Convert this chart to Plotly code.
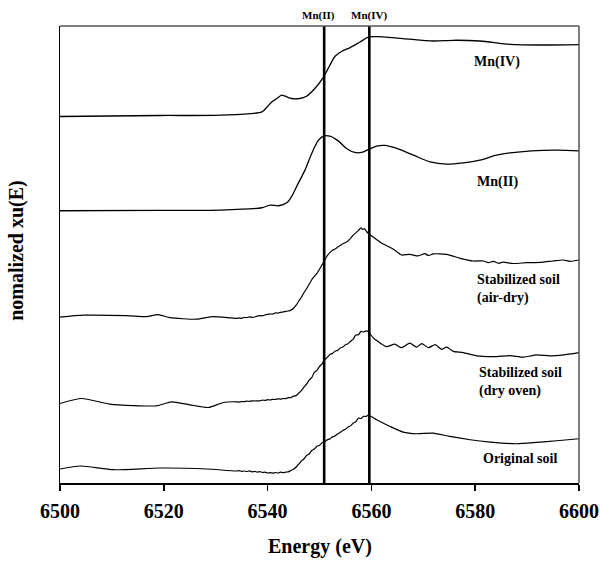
import plotly.graph_objects as go

# ---------------- data (energy in eV, stacked normalized absorbance, arbitrary units) -------------
mn4_E = [6500.0, 6519.3, 6530.8, 6538.9, 6539.8, 6540.8, 6541.8, 6542.7, 6543.4, 6544.6, 6546.2,
         6547.5, 6549.1, 6550.7, 6552.0, 6553.0, 6554.3, 6555.9, 6557.8, 6559.5, 6561.0, 6566.1,
         6571.9, 6575.8, 6580.9, 6586.7, 6592.5, 6600.0]
mn4_y = [367.0, 368.0, 368.3, 371.6, 376.0, 381.6, 385.0, 388.3, 387.3, 385.0, 385.0,
         387.3, 395.0, 406.0, 418.3, 427.3, 432.3, 436.0, 441.6, 446.6, 447.0, 445.0,
         442.6, 443.3, 442.6, 439.3, 438.6, 439.0]

mn2_E = [6500.0, 6519.3, 6530.8, 6538.9, 6540.5, 6542.1, 6543.7, 6544.6, 6545.9, 6547.2, 6548.5,
         6549.8, 6550.9, 6552.0, 6553.6, 6555.2, 6556.8, 6558.1, 6559.5, 6561.0, 6562.6, 6564.9,
         6568.1, 6571.3, 6574.5, 6577.7, 6580.9, 6584.1, 6586.7, 6595.4, 6600.0]
mn2_y = [272.6, 273.0, 273.3, 275.6, 278.3, 277.6, 280.6, 286.6, 300.0, 313.3, 330.0,
         343.3, 347.6, 347.3, 342.6, 335.0, 331.0, 331.0, 334.0, 337.3, 338.0, 335.0,
         328.3, 321.6, 319.3, 320.6, 323.3, 328.3, 330.6, 333.3, 332.6]

air_E = [6500.0, 6504.5, 6512.9, 6516.7, 6518.9, 6521.2, 6526.3, 6529.5,
         6534.0, 6534.5, 6535.0, 6535.5, 6536.0, 6536.5, 6537.0, 6537.5, 6538.0, 6538.5,
         6539.0, 6539.5, 6540.0, 6540.5, 6541.0, 6541.5, 6542.0, 6542.5, 6543.0, 6543.5,
         6544.0, 6544.5, 6545.0, 6545.5, 6546.0, 6546.5, 6547.0, 6547.5, 6548.0, 6548.5,
         6549.0, 6549.5, 6550.0, 6550.5, 6551.0, 6551.5, 6552.0, 6552.5, 6553.0, 6553.5,
         6554.0, 6554.5, 6555.0, 6555.5, 6556.0, 6556.5, 6557.0, 6557.5, 6558.0, 6558.3,
         6558.7, 6559.1, 6560.4, 6562.0, 6563.6, 6564.9, 6565.8, 6567.4, 6569.0, 6570.3,
         6571.0, 6571.9, 6574.5, 6577.1, 6579.6, 6581.6, 6582.5, 6583.5, 6584.5, 6585.4,
         6587.3, 6589.9, 6592.5, 6595.0, 6597.0, 6598.3, 6600.0]
air_y = [166.0, 168.0, 167.6, 166.6, 168.6, 165.6, 164.0, 166.6,
         164.8, 165.3, 164.9, 165.9, 165.6, 166.4, 165.9, 166.2, 167.1, 167.6,
         167.4, 168.2, 168.8, 169.3, 169.2, 170.3, 170.1, 170.9, 171.2, 171.8,
         172.2, 173.1, 175.0, 178.0, 182.0, 186.0, 190.5, 194.5, 199.0, 203.5,
         206.8, 210.0, 214.0, 218.5, 223.0, 227.6, 230.6, 233.0, 234.2, 236.2,
         237.8, 239.6, 240.8, 242.4, 245.2, 248.2, 250.4, 253.0, 255.4, 254.0,
         254.4, 251.6, 246.0, 240.0, 236.0, 231.6, 228.3, 229.0, 227.4, 229.6,
         227.8, 229.4, 229.0, 225.0, 222.3, 222.3, 220.6, 222.0, 220.0, 221.2,
         219.8, 220.6, 221.0, 222.3, 223.3, 222.0, 223.3]

oven_E = [6500.0, 6504.2, 6509.6, 6518.6, 6521.5, 6525.0, 6528.6, 6531.5,
          6534.0, 6534.5, 6535.0, 6535.5, 6536.0, 6536.5, 6537.0, 6537.5, 6538.0, 6538.5,
          6539.0, 6539.5, 6540.0, 6540.5, 6541.0, 6541.5, 6542.0, 6542.5, 6543.0, 6543.5,
          6544.0, 6544.5, 6545.0, 6545.5, 6546.0, 6546.5, 6547.0, 6547.5, 6548.0, 6548.5,
          6549.0, 6549.5, 6550.0, 6550.5, 6551.0, 6551.5, 6552.0, 6552.5, 6553.0, 6553.5,
          6554.0, 6554.5, 6555.0, 6555.5, 6556.0, 6556.5, 6557.0, 6557.5, 6558.0, 6558.5,
          6559.0, 6559.4, 6560.4, 6561.3, 6562.9, 6564.5, 6565.8, 6567.4, 6568.7, 6569.7,
          6571.0, 6572.3, 6573.5, 6574.5, 6575.8, 6577.7, 6580.3, 6584.1, 6586.7, 6589.3,
          6591.8, 6594.4, 6597.0, 6600.0]
oven_y = [79.6, 84.6, 79.0, 77.3, 81.3, 78.3, 75.6, 80.6,
          81.3, 81.0, 81.6, 81.4, 82.0, 81.7, 82.3, 82.1, 82.3, 82.2,
          83.0, 82.7, 83.4, 83.1, 83.8, 83.6, 84.3, 84.0, 84.6, 84.5,
          85.4, 85.4, 87.0, 87.5, 90.0, 92.5, 96.0, 99.0, 103.0, 105.5,
          110.8, 112.8, 116.6, 119.4, 123.4, 125.8, 128.6, 129.8, 132.0, 132.8,
          135.2, 136.2, 138.4, 139.5, 142.0, 144.0, 148.2, 148.4, 151.8, 151.2,
          152.4, 151.6, 145.0, 141.6, 136.6, 139.0, 135.5, 140.0, 136.0, 139.6,
          135.5, 138.6, 133.8, 136.0, 131.8, 130.6, 127.3, 126.6, 127.6, 126.0,
          128.3, 127.3, 128.3, 130.6]

orig_E = [6500.0, 6503.9, 6510.3, 6519.3, 6528.3,
          6534.0, 6534.5, 6535.0, 6535.5, 6536.0, 6536.5, 6537.0, 6537.5, 6538.0, 6538.5,
          6539.0, 6539.5, 6540.0, 6540.5, 6541.0, 6541.5, 6542.0, 6542.5, 6543.0, 6543.5,
          6544.0, 6544.5, 6545.0, 6545.5, 6546.0, 6546.5, 6547.0, 6547.5, 6548.0, 6548.5,
          6549.0, 6549.5, 6550.0, 6550.5, 6551.0, 6551.5, 6552.0, 6552.5, 6553.0, 6553.5,
          6554.0, 6554.5, 6555.0, 6555.5, 6556.0, 6556.5, 6557.0, 6557.5, 6558.0, 6558.5,
          6559.0, 6559.4, 6561.0, 6563.6, 6566.1, 6568.7, 6571.9, 6575.1, 6579.0, 6582.9,
          6588.0, 6591.8, 6595.7, 6600.0]
orig_y = [14.0, 17.0, 13.3, 15.0, 14.0,
          12.0, 12.4, 11.6, 12.0, 11.5, 12.1, 11.2, 11.6, 10.9, 11.4,
          10.5, 10.8, 10.0, 10.4, 9.8, 10.5, 10.0, 10.8, 10.4, 10.9,
          11.2, 12.6, 13.8, 16.0, 18.8, 22.0, 24.0, 27.5, 29.0, 32.5,
          34.0, 36.8, 37.8, 40.2, 41.2, 43.2, 44.2, 46.2, 47.2, 49.2,
          50.6, 52.6, 53.8, 56.0, 57.2, 60.0, 61.4, 65.0, 64.6, 66.8,
          66.6, 68.0, 63.3, 56.6, 51.0, 49.3, 50.0, 46.6, 43.3, 41.0,
          39.3, 40.6, 42.3, 44.3]

ref_names = ["Mn(II)", "Mn(IV)"]
ref_E = [6550.9, 6559.6]

label_texts = ["Mn(IV)", "Mn(II)", "Stabilized soil<br>(air-dry)",
               "Stabilized soil<br>(dry oven)", "Original soil"]
label_E = [6579.3, 6580.0, 6580.0, 6580.3, 6581.2]
label_y = [421.6, 301.6, 194.3, 101.6, 25.0]

x_ticks = [6500, 6520, 6540, 6560, 6580, 6600]
Y_TOP = 457.6

FONT = "Liberation Serif, Times New Roman, serif"

fig = go.Figure()
for E, y in [(mn4_E, mn4_y), (mn2_E, mn2_y)]:
    fig.add_trace(go.Scatter(x=E, y=y, mode="lines",
                             line=dict(color="black", width=1.3, shape="spline", smoothing=0.8),
                             showlegend=False, hoverinfo="skip"))
for E, y in [(air_E, air_y), (oven_E, oven_y), (orig_E, orig_y)]:
    fig.add_trace(go.Scatter(x=E, y=y, mode="lines",
                             line=dict(color="black", width=1.2, shape="spline", smoothing=0.6),
                             showlegend=False, hoverinfo="skip"))

for E in ref_E:
    fig.add_trace(go.Scatter(x=[E, E], y=[0, Y_TOP], mode="lines",
                             line=dict(color="black", width=2.6),
                             showlegend=False, hoverinfo="skip"))

for name, E in zip(ref_names, ref_E):
    fig.add_annotation(x=E, y=1.023, xref="x", yref="paper", text="<b>%s</b>" % name,
                       showarrow=False, xanchor="center", yanchor="middle",
                       xshift=-6 if name == "Mn(II)" else 0,
                       font=dict(family=FONT, size=11, color="black"))

for t, E, y in zip(label_texts, label_E, label_y):
    fig.add_annotation(x=E, y=y, xref="x", yref="y", text="<b>%s</b>" % t, showarrow=False,
                       xanchor="left", yanchor="middle", align="left",
                       font=dict(family=FONT, size=14, color="black"))

# axis titles as annotations (exact placement)
fig.add_annotation(x=0.5, y=-0.139, xref="paper", yref="paper", text="<b>Energy (eV)</b>",
                   showarrow=False, xanchor="center", yanchor="middle",
                   font=dict(family=FONT, size=20, color="black"))
fig.add_annotation(x=-0.083, y=0.51, xref="paper", yref="paper", text="<b>nomalized xu(E)</b>",
                   showarrow=False, xanchor="center", yanchor="middle", textangle=-90,
                   font=dict(family=FONT, size=20, color="black"))

# top and right frame lines (gray)
fig.add_shape(type="line", xref="paper", yref="paper", x0=0, x1=1, y0=1, y1=1,
              line=dict(color="#555555", width=1.5))
fig.add_shape(type="line", xref="paper", yref="paper", x0=1, x1=1, y0=0, y1=1,
              line=dict(color="#555555", width=1.5))

fig.update_layout(
    width=600, height=561,
    margin=dict(l=60, r=21, t=26, b=78),
    paper_bgcolor="white", plot_bgcolor="white",
    font=dict(family=FONT, color="black"),
    hovermode=False,
    xaxis=dict(range=[6500, 6600], tickvals=x_ticks,
               ticktext=["<b>%d</b>" % v for v in x_ticks],
               ticks="outside", ticklen=6, tickwidth=1.5, tickcolor="black",
               showline=True, linecolor="black", linewidth=1.5, showgrid=False, zeroline=False,
               tickfont=dict(family=FONT, size=20, color="black"), ticklabelstandoff=3,
               automargin=False),
    yaxis=dict(range=[0, Y_TOP], showticklabels=False, ticks="", showline=True,
               linecolor="black", linewidth=1.5, showgrid=False, zeroline=False,
               automargin=False),
)

fig.write_html("out.html", config={"displayModeBar": False, "staticPlot": True},
               post_script="document.body.style.margin='0';document.body.style.padding='0';")
